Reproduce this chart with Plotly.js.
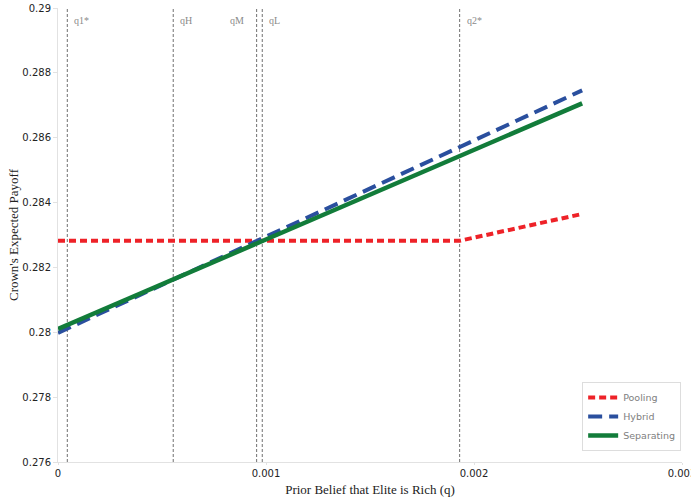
<!DOCTYPE html>
<html>
<head>
<meta charset="utf-8">
<script src="https://cdn.plot.ly/plotly-3.0.1.min.js"></script>
<style>html,body{margin:0;padding:0;background:#fff;overflow:hidden;}#chart{width:691px;height:501px;}</style>
</head>
<body>
<div id="chart"></div>
<script>
// Data
const poolingQ = [0, 0.00193, 0.00252];
const poolingPayoff = [0.28282, 0.28282, 0.28365];
const hybridQ = [0, 0.00252];
const hybridPayoff = [0.27998, 0.28746];
const separatingQ = [0, 0.00252];
const separatingPayoff = [0.28010, 0.28706];
const thresholdNames = ["q1*", "qH", "qM", "qL", "q2*"];
const thresholdQ = [0.0000447, 0.000554, 0.000955, 0.000982, 0.001931];
const yTicks = [0.276, 0.278, 0.28, 0.282, 0.284, 0.286, 0.288, 0.29];
const xTicks = [0, 0.001, 0.002, 0.003];
const xTickText = ["0", "0.001", "0.002", "0.003"];

const traces = [
  {x: poolingQ, y: poolingPayoff, name: "Pooling", mode: "lines",
   line: {color: "#ee2228", width: 4, dash: "7px,4px"}},
  {x: hybridQ, y: hybridPayoff, name: "Hybrid", mode: "lines",
   line: {color: "#2a4f9e", width: 4, dash: "14px,7px"}},
  {x: separatingQ, y: separatingPayoff, name: "Separating", mode: "lines",
   line: {color: "#127c3a", width: 4.5}}
];

const shapes = thresholdQ.map(q => ({
  type: "line", xref: "x", yref: "paper", x0: q, x1: q, y0: 0, y1: 1,
  line: {color: "#707070", width: 1, dash: "3px,2px"}, layer: "below"
}));

const annotations = thresholdQ.map((q, i) => {
  const left = thresholdNames[i] === "qM";
  return {
    x: q, xref: "x", y: 0.99, yref: "paper", text: thresholdNames[i],
    showarrow: false, xanchor: left ? "right" : "left", yanchor: "top",
    xshift: left ? -11 : 5,
    font: {family: "Liberation Serif, Times New Roman, serif", size: 10, color: "#8a8a8a"}
  };
});

const layout = {
  width: 691, height: 501,
  margin: {l: 58, r: 9, t: 8, b: 39},
  paper_bgcolor: "#fff", plot_bgcolor: "#fff",
  showlegend: true,
  legend: {x: 0.84, y: 0.024, xanchor: "left", yanchor: "bottom",
    bgcolor: "#fff", bordercolor: "#dddddd", borderwidth: 1,
    font: {family: "DejaVu Sans, Verdana, sans-serif", size: 9.5, color: "#808080"},
    tracegroupgap: 0},
  xaxis: {range: [0, 0.003], tickvals: xTicks, ticktext: xTickText, automargin: false,
    ticklabeloverflow: "allow",
    showgrid: false, zeroline: false, showline: true, linecolor: "#e2e2e2", linewidth: 1,
    ticks: "outside", ticklen: 2, tickcolor: "#e2e2e2",
    tickfont: {family: "DejaVu Sans, Verdana, sans-serif", size: 10, color: "#222"},
    title: {text: "Prior Belief that Elite is Rich (q)", standoff: 6,
      font: {family: "Liberation Serif, Times New Roman, serif", size: 13, color: "#222"}}},
  yaxis: {range: [0.276, 0.29], tickvals: yTicks, automargin: false,
    ticklabeloverflow: "allow",
    showgrid: false, zeroline: false, showline: true, linecolor: "#e2e2e2", linewidth: 1,
    ticks: "outside", ticklen: 4, tickcolor: "#e2e2e2",
    tickfont: {family: "DejaVu Sans, Verdana, sans-serif", size: 10, color: "#222"},
    title: {text: "Crown's Expected Payoff", standoff: 0,
      font: {family: "Liberation Serif, Times New Roman, serif", size: 13, color: "#222"}}},
  shapes: shapes,
  annotations: annotations
};

Plotly.newPlot("chart", traces, layout, {displayModeBar: false, staticPlot: true});
</script>
</body>
</html>
